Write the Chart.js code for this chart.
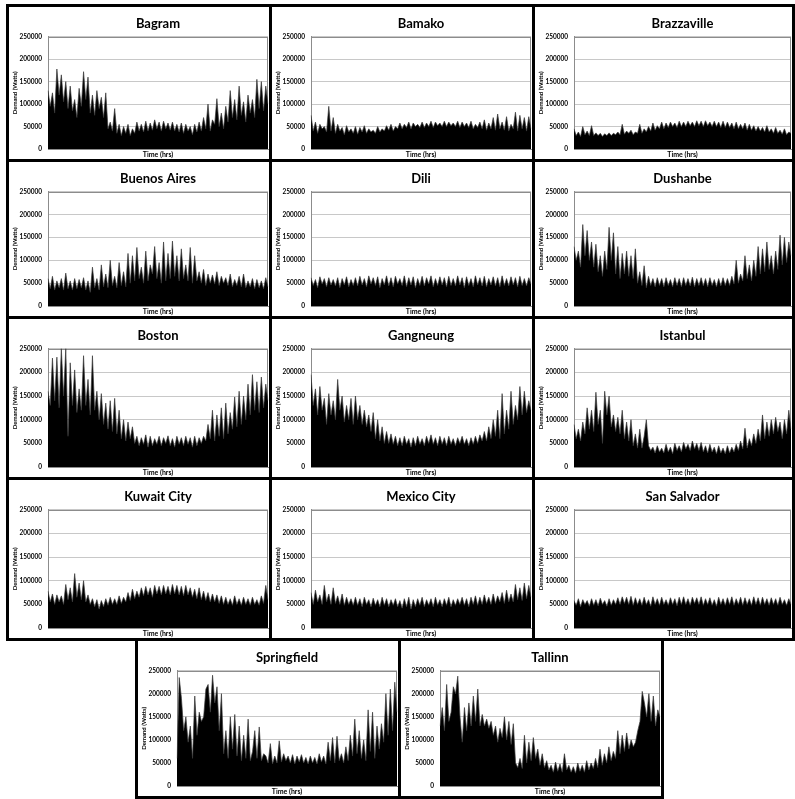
<!DOCTYPE html>
<html>
<head>
<meta charset="utf-8">
<script src="https://cdn.jsdelivr.net/npm/chart.js@4.4.0/dist/chart.umd.min.js"></script>
<style>
  body { margin: 0; background: #fff; width: 795px; height: 799px; position: relative; overflow: hidden; font-family: Lato, sans-serif; }
  .panel { position: absolute; box-sizing: border-box; border: 3px solid #000; background: #fff; }
  .panel canvas { display: block; }
</style>
</head>
<body>
<script>
// hourly demand, sampled across the year, in kW (axis labels show watts)
const cities = ["Bagram", "Bamako", "Brazzaville", "Buenos Aires", "Dili", "Dushanbe", "Boston",
  "Gangneung", "Istanbul", "Kuwait City", "Mexico City", "San Salvador", "Springfield", "Tallinn"];
const yTicks = [0, 50, 100, 150, 200, 250];
const yTickLabels = ["0", "50000", "100000", "150000", "200000", "250000"];

const bagram = [130, 95, 125, 80, 178, 120, 165, 105, 150, 90,
  140, 85, 110, 70, 135, 95, 172, 110, 160, 80,
  120, 75, 130, 90, 115, 70, 125, 45, 60, 40,
  90, 35, 55, 30, 50, 35, 55, 30, 45, 35,
  60, 40, 55, 38, 62, 40, 58, 42, 65, 45,
  60, 40, 62, 45, 58, 42, 60, 40, 55, 38,
  58, 35, 55, 40, 50, 32, 55, 38, 60, 40,
  70, 45, 100, 40, 65, 55, 112, 50, 80, 45,
  95, 60, 130, 70, 110, 65, 140, 75, 105, 60,
  120, 80, 110, 70, 155, 90, 150, 85, 140, 100];
const bamako = [75, 40, 60, 35, 55, 45, 50, 38, 95, 40,
  70, 35, 55, 40, 48, 32, 52, 38, 45, 35,
  50, 33, 48, 38, 52, 35, 45, 38, 42, 35,
  50, 38, 45, 40, 52, 42, 55, 40, 50, 45,
  58, 45, 55, 48, 60, 45, 58, 50, 55, 48,
  60, 48, 58, 50, 62, 48, 60, 52, 58, 50,
  62, 50, 60, 52, 58, 50, 62, 48, 60, 50,
  58, 48, 62, 45, 55, 48, 60, 45, 65, 42,
  58, 45, 70, 42, 78, 45, 60, 42, 72, 40,
  55, 45, 82, 40, 75, 45, 70, 40, 72, 45];
const brazzaville = [45, 30, 38, 28, 50, 32, 40, 30, 52, 30,
  36, 30, 35, 28, 34, 30, 36, 30, 35, 32,
  38, 32, 55, 33, 40, 35, 42, 32, 38, 35,
  55, 35, 45, 38, 50, 40, 58, 42, 52, 45,
  60, 45, 58, 48, 60, 50, 58, 48, 62, 50,
  60, 50, 62, 52, 60, 50, 63, 52, 62, 50,
  63, 52, 60, 50, 62, 50, 60, 48, 62, 48,
  60, 48, 58, 45, 60, 45, 55, 45, 58, 42,
  55, 42, 52, 40, 50, 40, 48, 38, 52, 38,
  45, 35, 48, 35, 42, 33, 45, 32, 38, 35];
const buenosAires = [60, 38, 65, 35, 55, 40, 60, 35, 72, 38,
  55, 35, 60, 38, 58, 40, 62, 35, 55, 30,
  85, 40, 60, 35, 90, 42, 70, 40, 100, 45,
  65, 40, 95, 45, 75, 42, 115, 50, 110, 55,
  128, 60, 85, 50, 120, 55, 90, 70, 130, 60,
  95, 50, 140, 55, 115, 60, 142, 65, 110, 55,
  125, 60, 90, 55, 128, 50, 110, 55, 75, 50,
  80, 45, 70, 50, 68, 48, 75, 45, 65, 50,
  62, 45, 70, 42, 58, 45, 65, 42, 70, 40,
  55, 42, 60, 38, 58, 40, 55, 38, 62, 42];
const dili = [62, 45, 58, 40, 64, 48, 60, 42, 62, 46,
  58, 44, 62, 40, 60, 46, 64, 42, 58, 45,
  62, 44, 65, 46, 60, 42, 66, 48, 62, 45,
  64, 40, 60, 46, 66, 44, 62, 42, 65, 48,
  60, 45, 66, 42, 62, 46, 64, 40, 60, 45,
  65, 44, 62, 48, 66, 42, 60, 45, 64, 46,
  62, 42, 65, 45, 60, 44, 66, 46, 62, 40,
  64, 45, 60, 42, 66, 46, 62, 44, 65, 42,
  60, 46, 64, 44, 62, 42, 66, 45, 60, 44,
  64, 46, 62, 42, 65, 45, 60, 44, 62, 48];
const dushanbe = [130, 100, 120, 85, 178, 110, 165, 100, 140, 85,
  135, 75, 110, 65, 120, 80, 172, 100, 160, 70,
  130, 60, 115, 70, 120, 65, 110, 60, 125, 50,
  75, 45, 88, 40, 65, 45, 60, 42, 62, 45,
  60, 42, 62, 45, 58, 42, 62, 45, 60, 42,
  62, 45, 60, 44, 63, 42, 60, 45, 62, 44,
  60, 42, 62, 45, 58, 42, 60, 44, 62, 45,
  60, 45, 65, 48, 100, 50, 70, 55, 110, 60,
  90, 55, 100, 65, 130, 70, 125, 75, 140, 80,
  110, 70, 120, 80, 155, 90, 150, 95, 140, 110];
const boston = [160, 130, 230, 140, 232, 125, 250, 150, 250, 65,
  220, 130, 205, 115, 165, 120, 235, 130, 185, 110,
  235, 120, 160, 100, 155, 90, 135, 80, 140, 75,
  145, 70, 120, 60, 100, 55, 95, 60, 85, 50,
  65, 45, 62, 48, 68, 42, 65, 45, 60, 48,
  65, 45, 62, 50, 66, 45, 60, 42, 65, 48,
  62, 45, 65, 48, 62, 42, 65, 45, 62, 50,
  65, 55, 90, 60, 120, 55, 110, 65, 125, 60,
  135, 70, 115, 80, 148, 85, 160, 90, 150, 100,
  175, 110, 195, 120, 180, 115, 190, 125, 175, 140];
const gangneung = [195, 130, 165, 110, 170, 120, 145, 90, 155, 110,
  140, 100, 185, 120, 150, 95, 130, 100, 145, 90,
  150, 100, 130, 90, 120, 85, 110, 75, 115, 60,
  100, 55, 85, 50, 75, 50, 70, 48, 65, 45,
  62, 45, 65, 48, 60, 42, 62, 45, 65, 48,
  60, 45, 65, 50, 68, 48, 62, 45, 65, 48,
  62, 45, 65, 48, 60, 45, 62, 50, 65, 48,
  60, 45, 62, 48, 65, 50, 68, 55, 75, 55,
  85, 60, 100, 65, 120, 60, 155, 70, 120, 80,
  160, 90, 130, 100, 170, 110, 160, 115, 140, 120];
const istanbul = [90, 60, 80, 55, 95, 70, 125, 80, 120, 75,
  158, 90, 120, 50, 160, 110, 150, 85, 110, 75,
  105, 70, 120, 60, 95, 55, 100, 45, 70, 40,
  80, 40, 65, 100, 45, 35, 42, 30, 45, 32,
  40, 30, 48, 32, 42, 28, 50, 35, 45, 32,
  52, 38, 48, 35, 55, 38, 50, 35, 52, 32,
  45, 30, 48, 32, 42, 28, 45, 30, 40, 28,
  45, 30, 42, 32, 48, 35, 55, 38, 82, 40,
  60, 45, 70, 50, 80, 55, 110, 60, 95, 65,
  100, 70, 105, 75, 95, 60, 100, 70, 120, 80];
const kuwaitCity = [78, 55, 72, 50, 70, 55, 68, 50, 92, 60,
  85, 55, 115, 65, 95, 60, 100, 55, 70, 50,
  62, 45, 60, 40, 58, 45, 62, 48, 65, 50,
  62, 50, 68, 52, 65, 55, 75, 58, 82, 62,
  78, 65, 85, 68, 88, 70, 85, 65, 90, 72,
  88, 70, 90, 72, 88, 70, 92, 72, 90, 70,
  88, 68, 90, 70, 85, 65, 82, 62, 85, 60,
  78, 58, 75, 55, 72, 55, 70, 52, 68, 50,
  65, 50, 62, 48, 68, 50, 62, 48, 65, 50,
  62, 48, 65, 50, 60, 48, 68, 52, 90, 60];
const mexicoCity = [75, 50, 80, 55, 70, 50, 90, 55, 72, 50,
  85, 52, 68, 50, 72, 48, 65, 50, 62, 48,
  65, 48, 62, 45, 65, 50, 60, 45, 63, 48,
  60, 45, 65, 48, 62, 45, 60, 48, 62, 45,
  58, 42, 62, 45, 65, 40, 60, 45, 62, 48,
  65, 45, 60, 48, 62, 45, 65, 48, 60, 45,
  62, 48, 65, 45, 60, 48, 62, 50, 65, 48,
  62, 45, 65, 50, 68, 48, 65, 50, 70, 52,
  65, 50, 72, 52, 68, 55, 75, 52, 80, 55,
  72, 55, 92, 60, 85, 58, 95, 62, 90, 65];
const sanSalvador = [58, 48, 62, 45, 60, 50, 58, 46, 62, 48,
  60, 47, 63, 50, 58, 46, 62, 48, 60, 50,
  64, 50, 66, 52, 65, 50, 67, 48, 64, 50,
  62, 48, 65, 50, 60, 46, 66, 50, 62, 48,
  65, 50, 60, 48, 64, 50, 62, 47, 65, 50,
  66, 50, 62, 48, 65, 52, 64, 50, 66, 48,
  62, 50, 64, 48, 60, 46, 65, 50, 62, 48,
  64, 50, 66, 48, 62, 50, 65, 48, 64, 50,
  62, 48, 66, 50, 64, 48, 65, 50, 62, 48,
  64, 50, 62, 48, 65, 50, 60, 48, 62, 50];
const springfield = [60, 235, 190, 120, 150, 95, 130, 60, 195, 110,
  160, 140, 150, 210, 220, 160, 240, 180, 215, 120,
  200, 70, 120, 60, 150, 80, 155, 65, 130, 55,
  110, 60, 145, 55, 75, 120, 60, 128, 55, 70,
  65, 50, 92, 48, 65, 50, 98, 52, 70, 55,
  65, 50, 68, 48, 65, 52, 68, 50, 62, 48,
  65, 50, 62, 48, 70, 52, 65, 48, 95, 55,
  105, 50, 108, 55, 70, 50, 85, 55, 110, 65,
  145, 70, 120, 60, 100, 55, 165, 75, 160, 60,
  130, 80, 135, 95, 200, 110, 210, 120, 225, 160];
const tallinn = [130, 170, 120, 220, 140, 160, 215, 200, 238, 150,
  95, 170, 120, 180, 130, 195, 140, 210, 130, 155,
  130, 145, 125, 140, 110, 130, 95, 125, 105, 150,
  100, 140, 90, 135, 50, 40, 60, 38, 110, 50,
  95, 55, 105, 60, 80, 45, 70, 40, 55, 35,
  45, 30, 52, 32, 48, 30, 70, 35, 45, 30,
  42, 28, 50, 32, 45, 30, 55, 35, 50, 38,
  60, 40, 80, 45, 70, 50, 85, 55, 75, 60,
  120, 70, 110, 75, 115, 80, 100, 85, 95, 120,
  140, 205, 180, 150, 200, 140, 195, 130, 165, 150];

const series = [bagram, bamako, brazzaville, buenosAires, dili, dushanbe, boston,
  gangneung, istanbul, kuwaitCity, mexicoCity, sanSalvador, springfield, tallinn];

// panel boxes on the page (outer border), same order as cities
const panels = [
  [6, 4, 266, 158], [269, 4, 266, 158], [532, 4, 263, 158],
  [6, 159, 266, 160], [269, 159, 266, 160], [532, 159, 263, 160],
  [6, 316, 266, 164], [269, 316, 266, 164], [532, 316, 263, 164],
  [6, 477, 266, 164], [269, 477, 266, 164], [532, 477, 263, 164],
  [135, 638, 266, 161], [398, 638, 266, 161]
];

const plotFrame = {
  id: "plotFrame",
  beforeDatasetsDraw(chart) {
    const { ctx, chartArea: a } = chart;
    ctx.save();
    ctx.strokeStyle = "#8c8c8c";
    ctx.lineWidth = 1;
    ctx.strokeRect(Math.round(a.left) + 0.5, Math.round(a.top) + 0.5, Math.round(a.width) - 1, Math.round(a.height) - 1);
    ctx.restore();
  }
};

cities.forEach((city, i) => {
  const [left, top, w, h] = panels[i];
  const div = document.createElement("div");
  div.className = "panel";
  div.style.left = left + "px";
  div.style.top = top + "px";
  div.style.width = w + "px";
  div.style.height = h + "px";
  const cv = document.createElement("canvas");
  cv.width = w - 6;
  cv.height = h - 6;
  div.appendChild(cv);
  document.body.appendChild(div);

  new Chart(cv.getContext("2d"), {
    type: "line",
    data: {
      labels: series[i].map((_, k) => k),
      datasets: [{
        data: series[i],
        fill: "origin",
        backgroundColor: "#000",
        borderColor: "#3a3a3a",
        borderWidth: 0.7,
        pointRadius: 0,
        tension: 0
      }]
    },
    options: {
      responsive: false,
      animation: false,
      events: [],
      layout: { padding: { left: 0, right: 1, top: 0, bottom: 0 } },
      plugins: {
        legend: { display: false },
        tooltip: { enabled: false },
        title: {
          display: true,
          text: city,
          fullSize: false,
          color: "#000",
          font: { family: "Lato", size: 13, weight: "bold" },
          padding: { top: 9, bottom: 5 }
        }
      },
      scales: {
        x: {
          offset: false,
          ticks: { display: false },
          grid: { display: false, drawTicks: false },
          border: { display: true, color: "#8c8c8c" },
          title: {
            display: true,
            text: "Time (hrs)",
            color: "#000",
            font: { family: "Lato", size: 7, weight: "bold" },
            padding: { top: 1, bottom: 0 }
          }
        },
        y: {
          min: 0,
          max: 250,
          afterBuildTicks: (s) => { s.ticks = yTicks.map((v) => ({ value: v })); },
          afterFit: (s) => { s.width = 39; },
          ticks: {
            callback: (v) => yTickLabels[yTicks.indexOf(v)],
            color: "#000",
            font: { family: "Lato", size: 6.5, weight: "bold" },
            padding: 6
          },
          grid: { color: "#c8c8c8", drawTicks: false },
          border: { display: true, color: "#8c8c8c" },
          title: {
            display: true,
            text: "Demand (Watts)",
            color: "#000",
            font: { family: "Lato", size: 6, weight: "bold" },
            padding: { top: 2, bottom: 0 }
          }
        }
      }
    },
    plugins: [plotFrame]
  });
});
</script>
</body>
</html>
